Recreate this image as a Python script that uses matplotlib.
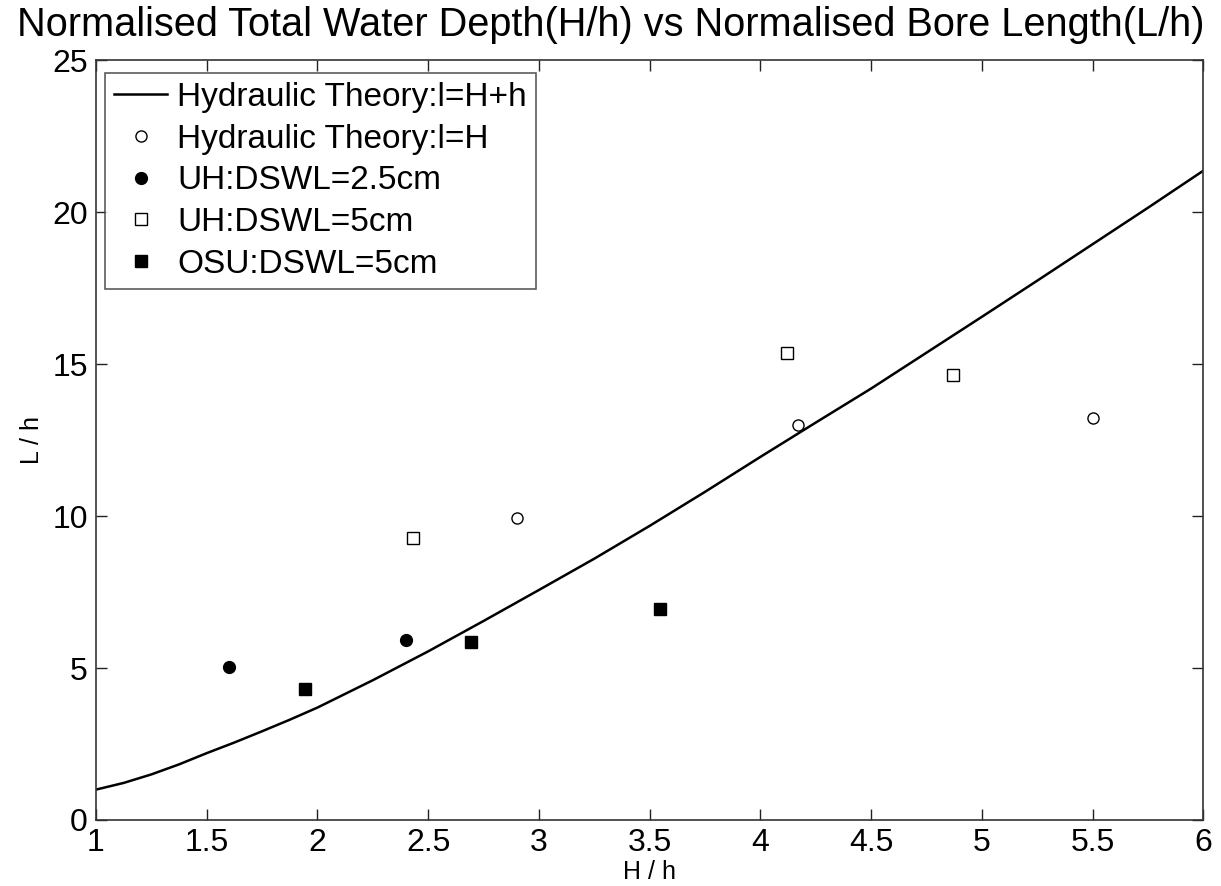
import matplotlib
matplotlib.use('Agg')
import matplotlib.pyplot as plt

plt.rcParams['font.family'] = ['Liberation Sans', 'DejaVu Sans']

# hydraulic theory curve l = H + h
theory_x = [1.0, 1.125, 1.25, 1.375, 1.5, 1.625, 1.75, 1.875, 2.0, 2.125, 2.25,
            2.5, 2.75, 3.0, 3.25, 3.5, 3.75, 4.0, 4.25, 4.5, 4.75, 5.0,
            5.25, 5.5, 5.75, 6.0]
theory_y = [1.0, 1.22, 1.5, 1.83, 2.2, 2.55, 2.92, 3.3, 3.7, 4.15, 4.6,
            5.55, 6.55, 7.57, 8.6, 9.68, 10.8, 11.95, 13.08, 14.2, 15.38, 16.56,
            17.75, 18.95, 20.15, 21.37]

# hydraulic theory l = H
lh_x = [2.90, 4.17, 5.50]
lh_y = [9.93, 13.0, 13.22]

# UH, DSWL = 2.5cm
uh25_x = [1.60, 2.40]
uh25_y = [5.05, 5.92]

# UH, DSWL = 5cm
uh5_x = [2.43, 4.12, 4.87]
uh5_y = [9.29, 15.36, 14.65]

# OSU, DSWL = 5cm
osu_x = [1.945, 2.694, 3.548]
osu_y = [4.31, 5.87, 6.95]

fig = plt.figure(figsize=(12.21, 8.86), dpi=100)
ax = fig.add_axes([0.0786, 0.0745, 0.9069, 0.8573])

ax.plot(theory_x, theory_y, '-', color='black', lw=1.8,
        label='Hydraulic Theory:l=H+h')
ax.plot(lh_x, lh_y, 'o', mfc='white', mec='black', ms=8, mew=1.0, ls='none',
        label='Hydraulic Theory:l=H')
ax.plot(uh25_x, uh25_y, 'o', mfc='black', mec='black', ms=8.5, ls='none',
        label='UH:DSWL=2.5cm')
ax.plot(uh5_x, uh5_y, 's', mfc='white', mec='black', ms=8, mew=1.0, ls='none',
        label='UH:DSWL=5cm')
ax.plot(osu_x, osu_y, 's', mfc='black', mec='black', ms=8.5, ls='none',
        label='OSU:DSWL=5cm')

ax.set_xlim(1, 6)
ax.set_ylim(0, 25)
ax.set_xticks([1, 1.5, 2, 2.5, 3, 3.5, 4, 4.5, 5, 5.5, 6])
ax.set_xticklabels(['1', '1.5', '2', '2.5', '3', '3.5', '4', '4.5', '5', '5.5', '6'])
ax.set_yticks([0, 5, 10, 15, 20, 25])

ax.tick_params(direction='in', length=8, width=1, top=True, right=True,
               labelsize=23, pad=6, colors='#222222', labelcolor='black')
for s in ax.spines.values():
    s.set_linewidth(1.2)
    s.set_color('#333333')

ax.set_xlabel('H / h', fontsize=18, labelpad=1)
ax.set_ylabel('L / h', fontsize=18, labelpad=6)
# title is centred on the figure, not on the axes
fig.text(0.5, 0.9594,
         'Normalised Total Water Depth(H/h) vs Normalised Bore Length(L/h)',
         fontsize=28.6, ha='center', va='baseline')

leg = ax.legend(loc='upper left', bbox_to_anchor=(0.008, 0.984), fontsize=24,
                frameon=True, fancybox=False, borderpad=0.28, labelspacing=0.32,
                handlelength=1.6, handletextpad=0.3, borderaxespad=0)
leg.get_frame().set_edgecolor('#333333')
leg.get_frame().set_linewidth(1.2)

fig.savefig('out.png', dpi=100)
